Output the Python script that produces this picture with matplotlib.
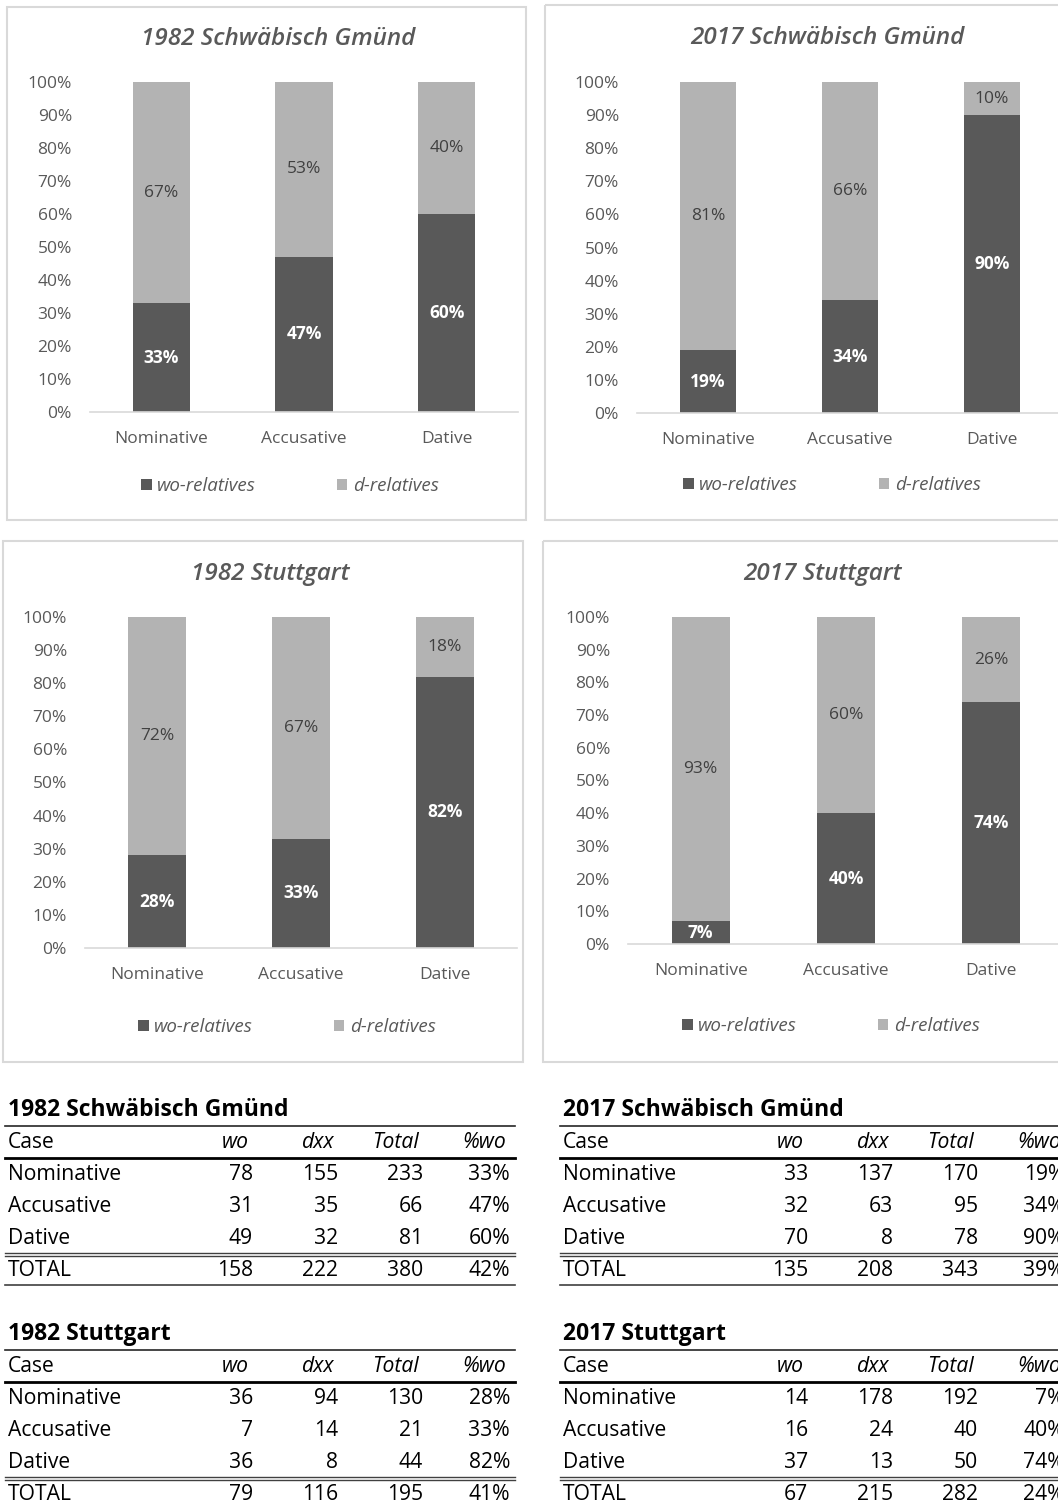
import matplotlib
matplotlib.use('Agg')
import matplotlib.pyplot as plt
from matplotlib.patches import Rectangle
from matplotlib.lines import Line2D

plt.rcParams['font.family'] = ['Open Sans', 'DejaVu Sans']

# data
cases = ['Nominative', 'Accusative', 'Dative']
titles = ['1982 Schwäbisch Gmünd', '2017 Schwäbisch Gmünd', '1982 Stuttgart', '2017 Stuttgart']

# percentage shares shown in the charts
pct_wo = [[33, 47, 60], [19, 34, 90], [28, 33, 82], [7, 40, 74]]
pct_d = [[67, 53, 40], [81, 66, 10], [72, 67, 18], [93, 60, 26]]

# counts shown in the tables
wo_counts = [[78, 31, 49], [33, 32, 70], [36, 7, 36], [14, 16, 37]]
dxx_counts = [[155, 35, 32], [137, 63, 8], [94, 14, 8], [178, 24, 13]]
totals = [[233, 66, 81], [170, 95, 78], [130, 21, 44], [192, 40, 50]]
pct_col = [['33%', '47%', '60%'], ['19%', '34%', '90%'], ['28%', '33%', '82%'], ['7%', '40%', '74%']]
total_row = [[158, 222, 380, '42%'], [135, 208, 343, '39%'], [79, 116, 195, '41%'], [67, 215, 282, '24%']]

DARK = '#595959'
LIGHT = '#b3b3b3'
TXT = '#595959'
W, H = 1058, 1505

fig = plt.figure(figsize=(W / 100, H / 100), dpi=100)
fig.patch.set_facecolor('white')

# overlay in pixel coordinates for boxes and tables
ov = fig.add_axes([0, 0, 1, 1], zorder=0)
ov.set_xlim(0, W)
ov.set_ylim(H, 0)
ov.axis('off')


def fx(x):
  return x / W


def fy(y):
  return 1 - y / H


# panel layout: box, axes x-range, axes y-range, title pos, legend pos
panels = [
  dict(box=(7, 7, 526, 520), ax=(90, 518, 82, 412), title=(278, 39), leg=(290, 486)),
  dict(box=(545, 5, 1075, 520), ax=(637, 1063, 82, 413), title=(827, 38), leg=(832, 485)),
  dict(box=(3, 541, 523, 1062), ax=(85, 517, 617, 948), title=(270, 574), leg=(287, 1027)),
  dict(box=(543, 541, 1075, 1062), ax=(628, 1064, 617, 944), title=(822, 574), leg=(831, 1026)),
]

for i, p in enumerate(panels):
  bx0, by0, bx1, by1 = p['box']
  ov.add_patch(Rectangle((bx0, by0), bx1 - bx0, by1 - by0, fill=False, ec='#d9d9d9', lw=1.5))

  x0, x1, yt, yb = p['ax']
  ax = fig.add_axes([fx(x0), fy(yb), (x1 - x0) / W, (yb - yt) / H], zorder=2)
  ax.patch.set_alpha(0)
  wo = [v / 100 for v in pct_wo[i]]
  dd = [v / 100 for v in pct_d[i]]
  xs = range(len(cases))
  b1 = ax.bar(xs, wo, width=0.4, color=DARK, label='wo-relatives')
  b2 = ax.bar(xs, dd, width=0.4, bottom=wo, color=LIGHT, label='d-relatives')
  for k in xs:
    ax.text(k, wo[k] / 2, f'{pct_wo[i][k]}%', ha='center', va='center',
            color='white', fontsize=12.5, fontweight='bold')
    ax.text(k, wo[k] + dd[k] / 2, f'{pct_d[i][k]}%', ha='center', va='center',
            color='#404040', fontsize=12.5)
  ax.set_xlim(-0.5, 2.5)
  ax.set_ylim(0, 1)
  ax.set_yticks([t / 10 for t in range(11)])
  ax.set_yticklabels([f'{t * 10}%' for t in range(11)])
  ax.set_xticks(list(xs))
  ax.set_xticklabels(cases)
  ax.tick_params(axis='y', length=0, pad=13, labelsize=12.5, labelcolor=TXT)
  ax.tick_params(axis='x', length=0, pad=14, labelsize=12.5, labelcolor=TXT)
  for s in ['top', 'right', 'left']:
    ax.spines[s].set_visible(False)
  ax.spines['bottom'].set_color('#d9d9d9')
  ax.spines['bottom'].set_linewidth(1.2)

  tx, ty = p['title']
  fig.text(fx(tx), fy(ty), titles[i], ha='center', va='center', fontsize=17.5,
           style='italic', fontweight='semibold', color=TXT)

  lx, ly = p['leg']
  leg = fig.legend(handles=[b1, b2], loc='center', bbox_to_anchor=(fx(lx), fy(ly)),
                   ncol=2, frameon=False, handlelength=0.55, handleheight=0.55,
                   handletextpad=0.3, columnspacing=4.3, fontsize=13.5)
  for t in leg.get_texts():
    t.set_color(TXT)
    t.set_style('italic')

# tables
table_pos = [(8, 1110), (563, 1110), (8, 1334), (563, 1334)]
col_right = [245, 330, 415, 502]
hdr = ['wo', 'dxx', 'Total', '%wo']
TFS = 15.2
for i, (tx, ty) in enumerate(table_pos):
  lx0, lx1 = tx - 3, tx + 507
  ov.text(tx, ty, titles[i], fontsize=16.5, fontweight='bold', va='center', color='black')
  ov.add_line(Line2D([lx0, lx1], [ty + 16, ty + 16], color='#262626', lw=1.2))
  ov.text(tx, ty + 33, 'Case', fontsize=TFS, va='center', color='black')
  for c, h in enumerate(hdr):
    ov.text(tx + col_right[c] - 4, ty + 33, h, fontsize=TFS, va='center', ha='right',
            style='italic', color='black')
  ov.add_line(Line2D([lx0, lx1], [ty + 48, ty + 48], color='black', lw=2))
  for r, case in enumerate(cases):
    yy = ty + 65 + r * 32
    vals = [wo_counts[i][r], dxx_counts[i][r], totals[i][r], pct_col[i][r]]
    ov.text(tx, yy, case, fontsize=TFS, va='center', color='black')
    for c, v in enumerate(vals):
      ov.text(tx + col_right[c], yy, str(v), fontsize=TFS, va='center', ha='right', color='black')
  ov.add_line(Line2D([lx0, lx1], [ty + 143, ty + 143], color='#404040', lw=1))
  ov.add_line(Line2D([lx0, lx1], [ty + 145.5, ty + 145.5], color='#404040', lw=1))
  yy = ty + 161
  ov.text(tx, yy, 'TOTAL', fontsize=TFS, va='center', color='black')
  for c, v in enumerate(total_row[i]):
    ov.text(tx + col_right[c], yy, str(v), fontsize=TFS, va='center', ha='right', color='black')
  ov.add_line(Line2D([lx0, lx1], [ty + 175, ty + 175], color='#404040', lw=1.2))

fig.savefig('out.png', dpi=100)
